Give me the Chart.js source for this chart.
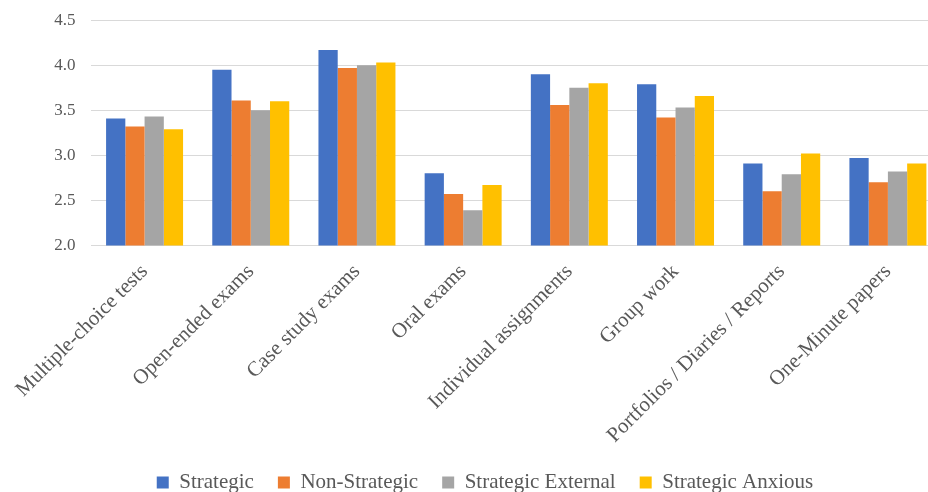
<!DOCTYPE html>
<html>
<head>
<meta charset="utf-8">
<script src="https://cdn.jsdelivr.net/npm/chart.js@4"></script>
<style>
  html, body { margin: 0; padding: 0; background: #fff; overflow: hidden; }
  /* the source picture is cropped on the right: draw a bit wider and clip */
  #wrap { width: 928px; height: 492px; overflow: hidden; }
</style>
</head>
<body>
<div id="wrap"><canvas id="myChart" width="941" height="492"></canvas></div>
<script>
const categories = [
  "Multiple-choice tests",
  "Open-ended exams",
  "Case study exams",
  "Oral exams",
  "Individual assignments",
  "Group work",
  "Portfolios / Diaries / Reports",
  "One-Minute papers"
];

const strategic         = [3.41, 3.95, 4.17, 2.80, 3.90, 3.79, 2.91, 2.97];
const nonStrategic      = [3.32, 3.61, 3.97, 2.57, 3.56, 3.42, 2.60, 2.70];
const strategicExternal = [3.43, 3.50, 4.00, 2.39, 3.75, 3.53, 2.79, 2.82];
const strategicAnxious  = [3.29, 3.60, 4.03, 2.67, 3.80, 3.66, 3.02, 2.91];

const yTicks = [2.0, 2.5, 3.0, 3.5, 4.0, 4.5];

const COLORS = {
  blue: '#4472C4',
  orange: '#ED7D31',
  grey: '#A5A5A5',
  yellow: '#FFC000'
};

const textColor = '#595959';
const serif = "'Liberation Serif', 'Times New Roman', serif";

function bars(label, values, color) {
  return {
    label: label,
    data: values,
    backgroundColor: color,
    borderWidth: 0,
    barPercentage: 1.0,
    categoryPercentage: 0.725
  };
}

const data = {
  labels: categories,
  datasets: [
    bars("Strategic", strategic, COLORS.blue),
    bars("Non-Strategic", nonStrategic, COLORS.orange),
    bars("Strategic External", strategicExternal, COLORS.grey),
    bars("Strategic Anxious", strategicAnxious, COLORS.yellow)
  ]
};

const config = {
  type: 'bar',
  data: data,
  options: {
    responsive: false,
    animation: false,
    layout: { padding: { top: 0, left: 29, right: 0, bottom: -11 } },
    plugins: {
      legend: {
        position: 'bottom',
        labels: {
          color: textColor,
          font: { family: serif, size: 21 },
          boxWidth: 12,
          boxHeight: 12,
          padding: 24
        }
      },
      tooltip: { enabled: false }
    },
    scales: {
      x: {
        grid: { display: false, drawTicks: false },
        border: { display: true, color: '#d9d9d9', width: 1 },
        ticks: {
          color: textColor,
          font: { family: serif, size: 21 },
          autoSkip: false,
          minRotation: 45,
          maxRotation: 45,
          padding: 14
        },
        afterFit: function (axis) {
          axis.height -= 14;
        }
      },
      y: {
        min: 2.0,
        max: 4.5,
        afterBuildTicks: function (axis) {
          axis.ticks = yTicks.map(function (v) { return { value: v }; });
        },
        afterFit: function (axis) {
          axis.width = 61;
        },
        grid: { color: '#d9d9d9', drawTicks: true, tickLength: 6, tickColor: 'rgba(0,0,0,0)' },
        border: { display: false },
        ticks: {
          color: textColor,
          font: { family: serif, size: 17 },
          padding: 10,
          callback: function (v) { return Number(v).toFixed(1); }
        }
      }
    }
  }
};

const myChart = new Chart(document.getElementById('myChart'), config);
</script>
</body>
</html>
